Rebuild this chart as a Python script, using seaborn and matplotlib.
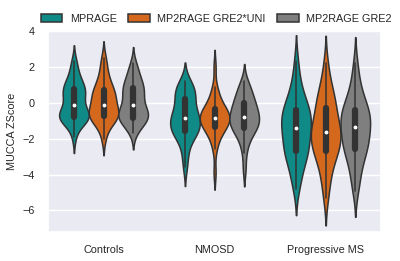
import pandas as pd
import matplotlib
matplotlib.use("Agg")
import matplotlib.pyplot as plt
import seaborn as sns

# groups and sequences
groups = ["Controls", "NMOSD", "Progressive MS"]
sequences = ["MPRAGE", "MP2RAGE GRE2*UNI", "MP2RAGE GRE2"]
seq_colors = ["#108a86", "#d4691e", "#7f7f7f"]

# MUCCA z-scores, one list per violin
controls_mprage = [-1.9, -1.3, -1.1, -1.0, -0.95, -0.9, -0.85, -0.82, -0.75, -0.7,
                   -0.62, -0.55, -0.45, -0.35, -0.2, 0.0, 0.15, 0.3, 0.45, 0.55,
                   0.62, 0.7, 0.75, 0.9, 1.1, 1.2, 1.3, 1.6, 2.0, 2.3]
controls_uni = [-2.0, -1.5, -1.2, -1.05, -0.95, -0.85, -0.8, -0.75, -0.7, -0.62,
                -0.55, -0.48, -0.4, -0.3, -0.2, 0.0, 0.1, 0.2, 0.3, 0.4,
                0.5, 0.65, 0.7, 0.8, 1.0, 1.2, 1.4, 1.7, 2.1, 2.5]
controls_gre2 = [-1.7, -1.4, -1.2, -1.08, -1.0, -0.92, -0.88, -0.85, -0.75, -0.65,
                 -0.55, -0.5, -0.42, -0.35, -0.25, -0.05, 0.1, 0.25, 0.38, 0.5,
                 0.65, 0.75, 0.82, 0.95, 1.1, 1.25, 1.4, 1.65, 1.9, 2.2]
nmosd_mprage = [-3.6, -3.0, -2.5, -2.1, -1.9, -1.75, -1.65, -1.6, -1.5, -1.4,
                -1.3, -1.2, -1.1, -1.0, -0.9, -0.8, -0.7, -0.6, -0.5, -0.4,
                -0.2, 0.1, 0.25, 0.35, 0.45, 0.6, 0.75, 0.9, 1.05, 1.2]
nmosd_uni = [-3.9, -2.6, -2.2, -1.9, -1.7, -1.55, -1.45, -1.4, -1.3, -1.2,
             -1.1, -1.05, -1.0, -0.95, -0.9, -0.8, -0.75, -0.7, -0.6, -0.55,
             -0.5, -0.4, -0.3, -0.25, -0.1, 0.1, 0.3, 0.6, 0.85, 2.0]
nmosd_gre2 = [-3.7, -2.8, -2.3, -2.0, -1.8, -1.6, -1.5, -1.42, -1.35, -1.25,
              -1.15, -1.05, -1.0, -0.9, -0.85, -0.75, -0.65, -0.55, -0.45, -0.35,
              -0.25, -0.1, -0.02, 0.1, 0.25, 0.4, 0.55, 0.75, 0.95, 1.2]
pms_mprage = [-4.8, -4.3, -3.9, -3.5, -3.2, -3.0, -2.8, -2.7, -2.6, -2.4,
              -2.2, -2.0, -1.8, -1.6, -1.45, -1.35, -1.2, -1.05, -0.9, -0.8,
              -0.65, -0.5, -0.35, -0.2, 0.0, 0.2, 0.5, 0.9, 1.4, 2.3]
pms_uni = [-5.3, -4.6, -4.1, -3.7, -3.3, -3.0, -2.85, -2.75, -2.55, -2.4,
           -2.25, -2.1, -1.95, -1.8, -1.7, -1.58, -1.45, -1.3, -1.15, -1.0,
           -0.8, -0.4, -0.28, -0.1, 0.1, 0.35, 0.6, 0.9, 1.4, 2.2]
pms_gre2 = [-4.9, -4.4, -3.9, -3.5, -3.2, -2.9, -2.7, -2.6, -2.4, -2.25,
            -2.1, -1.95, -1.8, -1.6, -1.45, -1.25, -1.1, -1.0, -0.9, -0.8,
            -0.65, -0.45, -0.38, -0.2, 0.0, 0.25, 0.5, 0.9, 1.4, 2.2]

values = {
    ("Controls", "MPRAGE"): controls_mprage,
    ("Controls", "MP2RAGE GRE2*UNI"): controls_uni,
    ("Controls", "MP2RAGE GRE2"): controls_gre2,
    ("NMOSD", "MPRAGE"): nmosd_mprage,
    ("NMOSD", "MP2RAGE GRE2*UNI"): nmosd_uni,
    ("NMOSD", "MP2RAGE GRE2"): nmosd_gre2,
    ("Progressive MS", "MPRAGE"): pms_mprage,
    ("Progressive MS", "MP2RAGE GRE2*UNI"): pms_uni,
    ("Progressive MS", "MP2RAGE GRE2"): pms_gre2,
}

rows = []
for (grp, seq), vals in values.items():
    for v in vals:
        rows.append({"group": grp, "sequence": seq, "zscore": v})
df = pd.DataFrame(rows)

sns.set_theme(style="darkgrid")
plt.rcParams["font.family"] = ["Liberation Sans", "DejaVu Sans"]
fs = 7.8

fig, ax = plt.subplots(figsize=(4, 2.61), dpi=100)
sns.violinplot(data=df, x="group", y="zscore", hue="sequence",
               order=groups, hue_order=sequences, palette=seq_colors,
               saturation=1, inner="box", density_norm="width",
               cut=2, bw_adjust=0.85,
               linewidth=1.1, linecolor="#333333",
               inner_kws=dict(box_width=4.5, whis_width=1.1, marker="."),
               ax=ax)

ax.set_ylim(-7.2, 4.05)
ax.set_yticks([-6, -4, -2, 0, 2, 4])
ax.set_xlabel("")
ax.set_ylabel("MUCCA ZScore", fontsize=fs)
ax.tick_params(labelsize=fs)

ax.legend(loc="lower center", bbox_to_anchor=(0.505, 1.0), ncol=3,
          frameon=False, fontsize=fs, handlelength=2.0, handletextpad=0.7,
          columnspacing=1.05, borderaxespad=0.2)

plt.subplots_adjust(left=0.12, right=0.953, top=0.885, bottom=0.111)
plt.savefig("out.png", dpi=100)
plt.close()
